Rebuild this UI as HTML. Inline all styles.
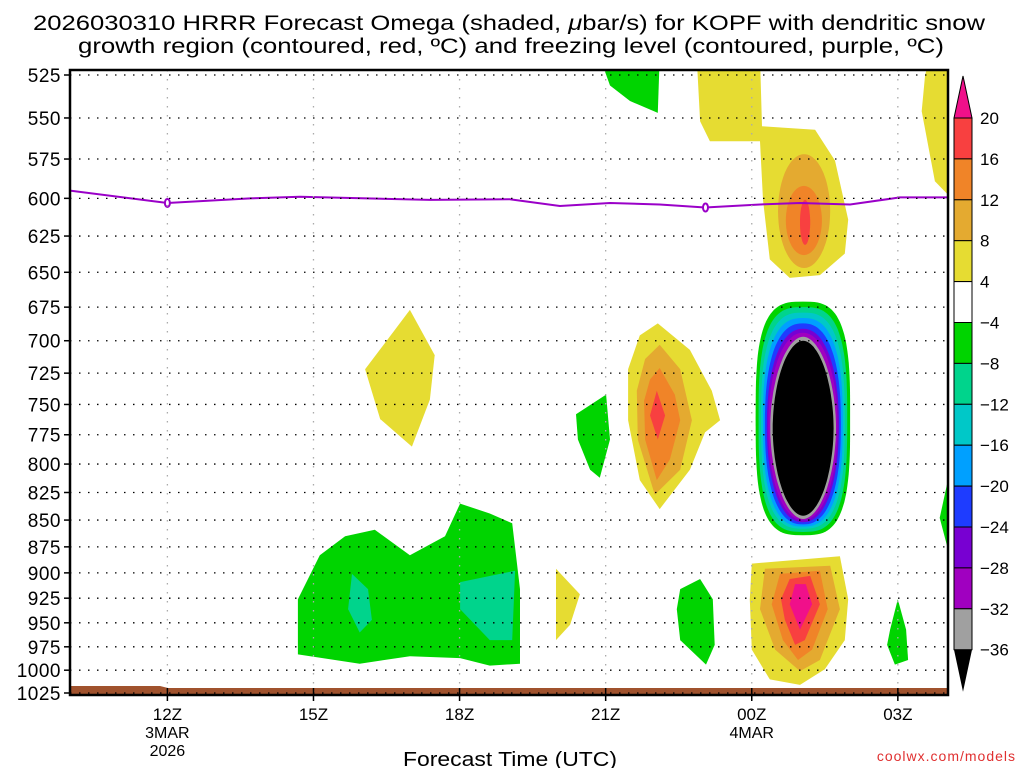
<!DOCTYPE html>
<html><head><meta charset="utf-8"><style>
body{margin:0;background:#fff;width:1024px;height:768px;overflow:hidden}
text{font-family:"Liberation Sans","DejaVu Sans",sans-serif}
</style></head><body>
<svg id="chart" width="1024" height="768" viewBox="0 0 1024 768" xmlns="http://www.w3.org/2000/svg">
<text x="33" y="30" font-size="21" textLength="952" lengthAdjust="spacingAndGlyphs" fill="#000">2026030310 HRRR Forecast Omega (shaded, <tspan font-style="italic">μ</tspan>bar/s) for KOPF with dendritic snow</text>
<text x="78" y="53" font-size="21" textLength="866" lengthAdjust="spacingAndGlyphs" fill="#000">growth region (contoured, red, ºC) and freezing level (contoured, purple, ºC)</text>
<defs><clipPath id="pc"><rect x="70" y="70" width="878" height="625"/></clipPath></defs>
<g id="plot" clip-path="url(#pc)"></g>
<g id="axes"></g>
<g id="cbar"></g>
<text x="403" y="766" font-size="20" textLength="214" lengthAdjust="spacingAndGlyphs">Forecast Time (UTC)</text>
<text x="1016" y="761" font-size="14" text-anchor="end" fill="#e03030" letter-spacing="1">coolwx.com/models</text>
</svg>
<script>
// ---- data ----
const pressureTicks=[525,550,575,600,625,650,675,700,725,750,775,800,825,850,875,900,925,950,975,1000,1025];
const hourTicks=[12,15,18,21,24,27];
const hourTickLabels=["12Z","15Z","18Z","21Z","00Z","03Z"];
const hourSubLabels=[["3MAR","2026"],[],[],[],["4MAR"],[]];
const cbarLevels=[20,16,12,8,4,-4,-8,-12,-16,-20,-24,-28,-32,-36];
const cbarColors=["#f0108a","#f84040","#f08428","#e4aa30","#e6dc32","#ffffff","#00d400","#00d48c","#00c8c8","#00a0ff","#1e3cff","#7800d2","#a000c0","#a0a0a0","#000000"];
const freezeHours=[10,12,13.7,14.72,17.39,19.03,20.06,21.09,22.11,23.04,24.17,24.99,26.02,27.04,28.03];
const freezeP=[595,603,600,599,601,600.6,605,603,604,606,604,603,604,599.4,599.4];
const freezeMarkers=[[12,603],[23.05,606]];
// polygons: [color, [[hour,hPa],...]]
const polys=[
["#e6dc32",[[22.87,515],[24.17,515],[24.21,555],[25.3,557],[25.71,576],[25.98,614],[25.91,637],[25.4,652],[24.78,654],[24.37,641],[24.23,601],[24.17,564],[23.14,564],[22.94,552]]],
["#00d400",[[20.88,515],[22.11,515],[22.07,547],[21.5,540],[21.09,531]]],
["#e6dc32",[[27.66,515],[28.1,515],[28.1,600],[27.76,589],[27.49,546],[27.56,525]]],
["#e6dc32",[[16.06,722],[16.98,677],[17.49,711],[17.39,746],[17.02,785],[16.37,762]]],
["#00d400",[[20.39,758],[21.01,742],[21.09,779],[20.88,812],[20.68,805],[20.43,779]]],
["#e6dc32",[[21.7,696],[22.07,687],[22.73,707],[23.18,739],[23.35,763],[23.04,773],[22.73,805],[22.11,840],[21.7,814],[21.46,763],[21.46,722]]],
["#e4aa30",[[21.81,714],[22.11,703],[22.53,722],[22.77,763],[22.53,805],[22.01,827],[21.66,779],[21.64,739]]],
["#f08428",[[21.91,730],[22.11,721],[22.42,742],[22.53,763],[22.32,796],[22.05,814],[21.81,779],[21.79,747]]],
["#f84040",[[22.05,739],[22.22,759],[22.07,779],[21.91,759]]],
["#00d400",[[14.68,926],[15.13,883],[15.65,865],[16.26,859],[16.98,883],[17.7,865],[18.01,835],[18.62,844],[19.08,853],[19.24,916],[19.24,993],[18.62,995],[18.01,987],[16.98,985],[15.95,993],[14.68,983]]],
["#00d48c",[[15.79,901],[16.12,916],[16.2,947],[15.95,960],[15.71,936]]],
["#00d48c",[[18.01,909],[19.14,898],[19.08,968],[18.62,968],[18.01,936]]],
["#e6dc32",[[19.98,896],[20.47,921],[20.27,952],[19.98,968]]],
["#00d400",[[22.53,916],[22.94,906],[23.2,926],[23.24,973],[23.06,994],[22.53,968],[22.46,936]]],
["#e6dc32",[[24.0,891],[25.81,884],[25.98,926],[25.91,968],[25.5,999],[24.99,1016],[24.37,1010],[24.0,978],[23.96,926]]],
["#e4aa30",[[24.27,896],[25.61,893],[25.81,936],[25.4,989],[24.99,1001],[24.48,978],[24.17,936]]],
["#f08428",[[24.58,901],[25.4,898],[25.56,936],[25.24,978],[24.95,989],[24.64,968],[24.41,931]]],
["#f84040",[[24.78,906],[25.2,903],[25.4,931],[25.09,968],[24.89,973],[24.68,947],[24.6,926]]],
["#f0108a",[[24.89,911],[25.11,911],[25.24,931],[24.99,957],[24.78,931]]],
["#00d400",[[27.0,926],[27.17,957],[27.21,989],[26.94,994],[26.78,973],[26.84,957]]],
["#00d400",[[28.1,800],[27.86,848],[28.1,890]]]
];
// blobs: [color, hour0, hour1, pTop, pBottom, exponent]
const ellipses=[
["#e4aa30",24.54,25.61,572,647,2],["#f08428",24.7,25.44,592,638,2],["#f84040",24.99,25.2,601,631,2],
["#00d400",24.08,26.02,671,864,3.2],["#00d48c",24.14,25.96,675,861,3.0],["#00c8c8",24.19,25.91,679,858,2.8],
["#00a0ff",24.23,25.87,683,856,2.6],["#1e3cff",24.27,25.83,687,854,2.4],["#7800d2",24.31,25.79,691,852,2.2],
["#a000c0",24.34,25.76,694,850,2.1],["#a0a0a0",24.38,25.73,697,849,1.9],["#000000",24.43,25.68,700,846,1.9]
];
// ---- axes ----
const X0=70,X1=948,Y0=75,Y1=693,H0=10,H1=28.03;
const xs=h=>X0+(h-H0)*(X1-X0)/(H1-H0);
const ys=p=>Y0+(Math.log(p)-Math.log(525))*(Y1-Y0)/(Math.log(1025)-Math.log(525));
const NS="http://www.w3.org/2000/svg";
function mk(tag,attrs,parent){const e=document.createElementNS(NS,tag);for(const k in attrs)e.setAttribute(k,attrs[k]);parent.appendChild(e);return e;}
const plot=document.getElementById('plot'),axes=document.getElementById('axes'),cb=document.getElementById('cbar');
polys.forEach((pg,i)=>{
 const e=mk('polygon',{points:pg[1].map(q=>xs(q[0]).toFixed(1)+','+ys(q[1]).toFixed(1)).join(' '),fill:pg[0]},plot);
 
 
});
ellipses.forEach((el,i)=>{
 const x0=xs(el[1]),x1=xs(el[2]),y0=ys(el[3]),y1=ys(el[4]),n=el[5];
 const cx=(x0+x1)/2,cy=(y0+y1)/2,rx=(x1-x0)/2,ry=(y1-y0)/2;
 const pts=[];
 for(let k=0;k<120;k++){const a=k/120*2*Math.PI,c=Math.cos(a),s=Math.sin(a);
  pts.push((cx+rx*Math.sign(c)*Math.pow(Math.abs(c),2/n)).toFixed(1)+','+(cy+ry*Math.sign(s)*Math.pow(Math.abs(s),2/n)).toFixed(1));}
 const e=mk('polygon',{points:pts.join(' '),fill:el[0]},plot);
 
 
});
// terrain
const t=mk('path',{d:`M${X0} 686 L160 686 L168 688 L${X1} 688 L${X1} 696 L${X0} 696Z`,fill:'#a0522d'},plot);


// grid
pressureTicks.forEach(p=>{
 const g=mk('line',{x1:X0,x2:X1,y1:ys(p),y2:ys(p),stroke:'#000','stroke-width':1.3,'stroke-dasharray':'1.5 7.5'},axes);
 
 
 mk('line',{x1:X0-6,x2:X0,y1:ys(p),y2:ys(p),stroke:'#000','stroke-width':1.5},axes);
 const l=mk('text',{x:61,y:ys(p)+7,'font-size':19,'text-anchor':'end','letter-spacing':'0.5'},axes);l.textContent=p;
 
 
});
hourTicks.forEach((h,i)=>{
 const g=mk('line',{x1:xs(h),x2:xs(h),y1:70,y2:695,stroke:'#aaa','stroke-width':1.3,'stroke-dasharray':'1.5 7.5'},axes);
 
 
 mk('line',{x1:xs(h),x2:xs(h),y1:688,y2:701,stroke:'#000','stroke-width':1.5},axes);
 const l=mk('text',{x:xs(h),y:720,'font-size':17,'text-anchor':'middle'},axes);l.textContent=hourTickLabels[i];
 
 
 hourSubLabels[i].forEach((s,j)=>{const m=mk('text',{x:xs(h),y:738+j*18,'font-size':16,'text-anchor':'middle'},axes);m.textContent=s;
 
 });
});
// freezing level
const fl=mk('polyline',{points:freezeHours.map((h,i)=>xs(h)+','+ys(freezeP[i])).join(' '),fill:'none',stroke:'#9a00c8','stroke-width':2},plot);


freezeMarkers.forEach(m=>{const e=mk('ellipse',{cx:xs(m[0]),cy:ys(m[1]),rx:2.5,ry:4,fill:'#fff',stroke:'#9a00c8','stroke-width':2},plot);
 
 });
const fr=mk('rect',{x:X0,y:70,width:X1-X0,height:625,fill:'none',stroke:'#000','stroke-width':2.5},axes);


// colorbar
const CX=954,CW=18,CT=118,STEP=40.9;
const tri1=mk('polygon',{points:`${CX},${CT} ${CX+CW},${CT} ${CX+CW/2},${CT-42}`,fill:cbarColors[0],stroke:'#000','stroke-width':1},cb);


for(let i=1;i<cbarColors.length-1;i++){
 const r=mk('rect',{x:CX,y:CT+(i-1)*STEP,width:CW,height:STEP,fill:cbarColors[i],stroke:'#000','stroke-width':1},cb);
 
 
}
const bot=CT+(cbarColors.length-2)*STEP;
const tri2=mk('polygon',{points:`${CX},${bot} ${CX+CW},${bot} ${CX+CW/2},${bot+42}`,fill:'#000'},cb);


cbarLevels.forEach((v,i)=>{const l=mk('text',{x:980,y:CT+i*STEP+6,'font-size':17},cb);
 l.textContent=v<0?'\u2212'+(-v):String(v);
 
 });
</script>
</body></html>
